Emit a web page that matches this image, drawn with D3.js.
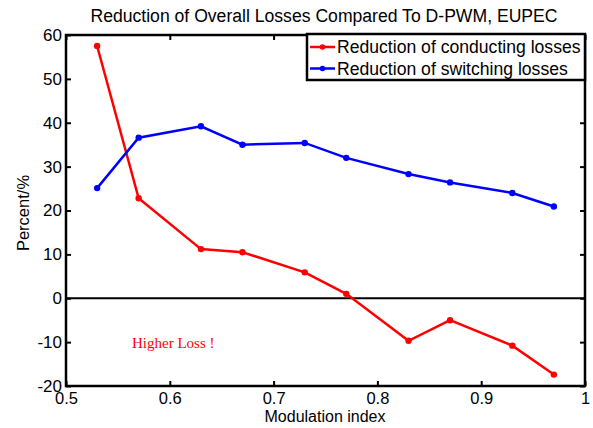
<!DOCTYPE html>
<html>
  <head>
    <meta charset="utf-8">
    <title>Reduction of Overall Losses</title>
    <script src="https://cdn.jsdelivr.net/npm/d3@7"></script>
    <style>
      body { margin: 0; background: #fff; }
      svg { font-family: "Liberation Sans", Arial, sans-serif; }
    </style>
  </head>
  <body>
    <script>
    var w = 593, h = 428;

    var modIndex = [0.53, 0.57, 0.63, 0.67, 0.73, 0.77, 0.83, 0.87, 0.93, 0.97];
    var conducting = [57.5, 22.8, 11.2, 10.5, 5.9, 1.0, -9.7, -5.0, -10.8, -17.4];
    var switching = [25.1, 36.6, 39.2, 35.0, 35.4, 32.0, 28.3, 26.4, 24.0, 20.9];
    var xTicks = [0.5, 0.6, 0.7, 0.8, 0.9, 1];
    var yTicks = [-20, -10, 0, 10, 20, 30, 40, 50, 60];
    var seriesNames = ["Reduction of conducting losses", "Reduction of switching losses"];
    var seriesColors = ["#ff0000", "#0000ff"];

    var pLeft = 66, pRight = 585, pTop = 35, pBottom = 386;

    var x = d3.scaleLinear().domain([0.5, 1]).range([pLeft, pRight]);
    var y = d3.scaleLinear().domain([-20, 60]).range([pBottom, pTop]);

    var svg = d3.select("body").append("svg")
      .attr("width", w).attr("height", h);

    // title
    svg.append("text")
      .attr("x", 324).attr("y", 22)
      .attr("text-anchor", "middle")
      .attr("font-size", "17.6px")
      .text("Reduction of Overall Losses Compared To D-PWM, EUPEC");

    // zero line
    svg.append("line")
      .attr("x1", pLeft).attr("x2", pRight)
      .attr("y1", y(0)).attr("y2", y(0))
      .attr("stroke", "#000").attr("stroke-width", 2);

    // axes (matlab style: ticks inward, mirrored)
    var bottomAxis = d3.axisBottom(x).tickValues(xTicks).tickSize(-5).tickPadding(6)
      .tickFormat(function(d){ return d === 1 ? "1" : d.toFixed(1) });
    var leftAxis = d3.axisLeft(y).tickValues(yTicks).tickSize(-5).tickPadding(4)
      .tickFormat(function(d){ return String(d) });

    var gx = svg.append("g").attr("transform", "translate(0," + pBottom + ")").call(bottomAxis);
    var gy = svg.append("g").attr("transform", "translate(" + pLeft + ",0)").call(leftAxis);
    svg.append("g").attr("transform", "translate(0," + pTop + ")")
      .call(d3.axisTop(x).tickValues(xTicks).tickSize(-5).tickFormat(""));
    svg.append("g").attr("transform", "translate(" + pRight + ",0)")
      .call(d3.axisRight(y).tickValues(yTicks).tickSize(-5).tickFormat(""));

    svg.selectAll(".domain").remove();
    svg.selectAll(".tick line").attr("stroke", "#000").attr("stroke-width", 2);
    gx.selectAll("text").attr("font-size", "16.5px").attr("fill", "#000")
      .attr("font-family", null);
    gy.selectAll("text").attr("font-size", "17px").attr("fill", "#000")
      .attr("font-family", null);

    svg.append("rect")
      .attr("x", pLeft).attr("y", pTop)
      .attr("width", pRight - pLeft).attr("height", pBottom - pTop)
      .attr("fill", "none").attr("stroke", "#000").attr("stroke-width", 2.5);

    // axis labels
    svg.append("text")
      .attr("x", 325).attr("y", 422)
      .attr("text-anchor", "middle").attr("font-size", "16px")
      .text("Modulation index");
    svg.append("text")
      .attr("transform", "translate(29,213) rotate(-90)")
      .attr("text-anchor", "middle").attr("font-size", "16.5px")
      .text("Percent/%");

    // series
    var line = d3.line()
      .x(function(d){ return x(d[0]) })
      .y(function(d){ return y(d[1]) });

    [conducting, switching].forEach(function(vals, i){
      var pts = modIndex.map(function(m, j){ return [m, vals[j]] });
      svg.append("path")
        .datum(pts)
        .attr("d", line)
        .attr("fill", "none")
        .attr("stroke", seriesColors[i])
        .attr("stroke-width", 2.5);
      svg.selectAll(".dot" + i)
        .data(pts)
        .enter().append("circle")
        .attr("class", "dot" + i)
        .attr("cx", function(d){ return x(d[0]) })
        .attr("cy", function(d){ return y(d[1]) })
        .attr("r", 3.2)
        .attr("fill", seriesColors[i]);
    });

    // annotation
    svg.append("text")
      .attr("x", 132).attr("y", 348)
      .style("font-family", "'Liberation Serif', 'Times New Roman', serif")
      .attr("font-size", "15px")
      .attr("fill", "#ff0000")
      .text("Higher Loss !");

    // legend
    var lg = svg.append("g");
    lg.append("rect")
      .attr("x", 307).attr("y", 34)
      .attr("width", pRight - 307).attr("height", 46)
      .attr("fill", "#fff").attr("stroke", "#000").attr("stroke-width", 2.5);
    seriesNames.forEach(function(name, i){
      var ly = 47 + i * 21.5;
      lg.append("line")
        .attr("x1", 310).attr("x2", 335)
        .attr("y1", ly).attr("y2", ly)
        .attr("stroke", seriesColors[i]).attr("stroke-width", 2.5);
      lg.append("circle")
        .attr("cx", 322.5).attr("cy", ly).attr("r", 2.8)
        .attr("fill", seriesColors[i]);
      lg.append("text")
        .attr("x", 337).attr("y", ly + 6)
        .attr("font-size", "17.6px")
        .text(name);
    });
    </script>
  </body>
</html>
